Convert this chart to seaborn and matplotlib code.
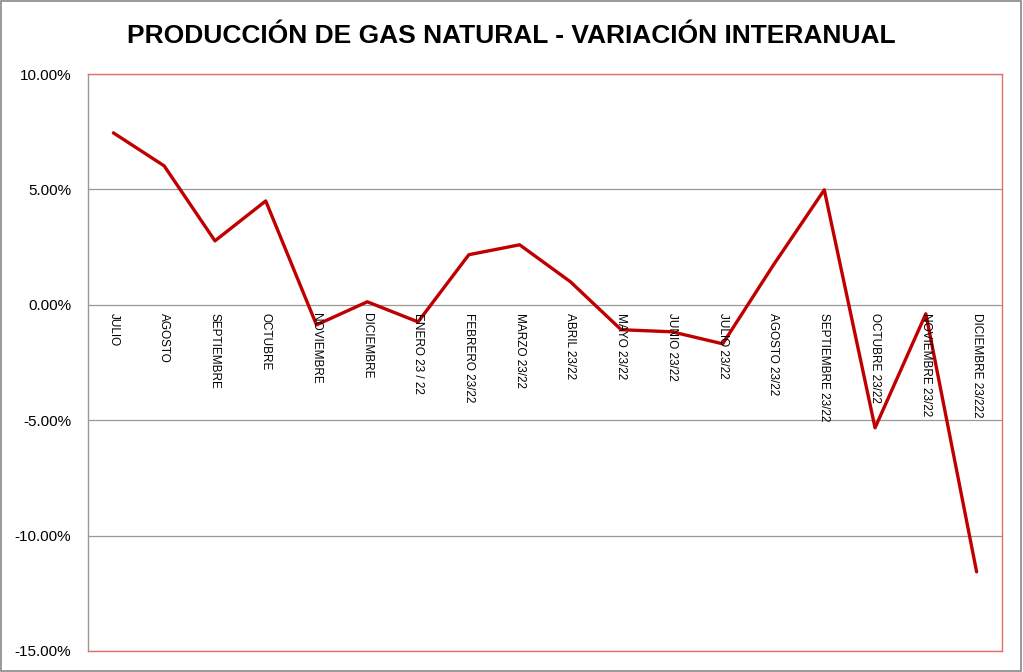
import pandas as pd
import numpy as np
import matplotlib.pyplot as plt
import seaborn as sns
from matplotlib.ticker import FuncFormatter

# Categories (months) and year-over-year variation in %
months = ['JULIO', 'AGOSTO', 'SEPTIEMBRE', 'OCTUBRE', 'NOVIEMBRE', 'DICIEMBRE',
          'ENERO 23 / 22', 'FEBRERO 23/22', 'MARZO 23/22', 'ABRIL 23/22',
          'MAYO 23/22', 'JUNIO 23/22', 'JULIO 23/22', 'AGOSTO 23/22',
          'SEPTIEMBRE 23/22', 'OCTUBRE 23/22', 'NOVIEMBRE 23/22', 'DICIEMBRE 23/222']
variation = [7.45, 6.02, 2.77, 4.50, -0.87, 0.13, -0.74, 2.17, 2.60, 1.00,
             -1.08, -1.17, -1.69, 1.73, 4.98, -5.33, -0.39, -11.57]
y_ticks = [-15, -10, -5, 0, 5, 10]

df = pd.DataFrame({'pos': np.arange(len(months)), 'month': months, 'var': variation})

sns.set_style("white")
plt.rcParams['font.family'] = ['Liberation Sans', 'DejaVu Sans']
plt.rcParams['text.color'] = 'black'
plt.rcParams['ytick.color'] = 'black'

fig = plt.figure(figsize=(10.23, 6.72), dpi=100)
ax = fig.add_axes([88 / 1023, 1 - 651 / 672, 914 / 1023, 577 / 672])

sns.lineplot(data=df, x='pos', y='var', ax=ax, color='#c00000', linewidth=2.4, sort=False)

ax.set_xlim(-0.5, len(months) - 0.5)
ax.set_ylim(-15, 10)
ax.set_yticks(y_ticks)
ax.yaxis.set_major_formatter(FuncFormatter(lambda v, p: f'{v:.2f}%'))
ax.set_xticks([])
ax.set_xlabel('')
ax.set_ylabel('')
ax.tick_params(axis='y', length=0, labelsize=11, labelcolor='black', pad=12)
ax.grid(axis='y', color='#999999', linewidth=0.9)
ax.set_axisbelow(True)
for s in ax.spines.values():
    s.set_color('#e07070')
    s.set_linewidth(1.0)
ax.spines['left'].set_color('#999999')

# month labels hanging from the zero line
for i, m in enumerate(months):
    ax.text(i, -0.35, m, rotation=270, ha='center', va='top', fontsize=8.5, color='black')

fig.text(0.5, 1 - 36 / 672, 'PRODUCCIÓN DE GAS NATURAL - VARIACIÓN INTERANUAL',
         ha='center', va='center', fontsize=19, fontweight='bold', color='black')

# outer frame
fig.patches.append(plt.Rectangle((0.001, 0.001), 0.997, 0.997, transform=fig.transFigure,
                                 fill=False, edgecolor='#888888', linewidth=1.2))

fig.savefig('out.png', dpi=100)
